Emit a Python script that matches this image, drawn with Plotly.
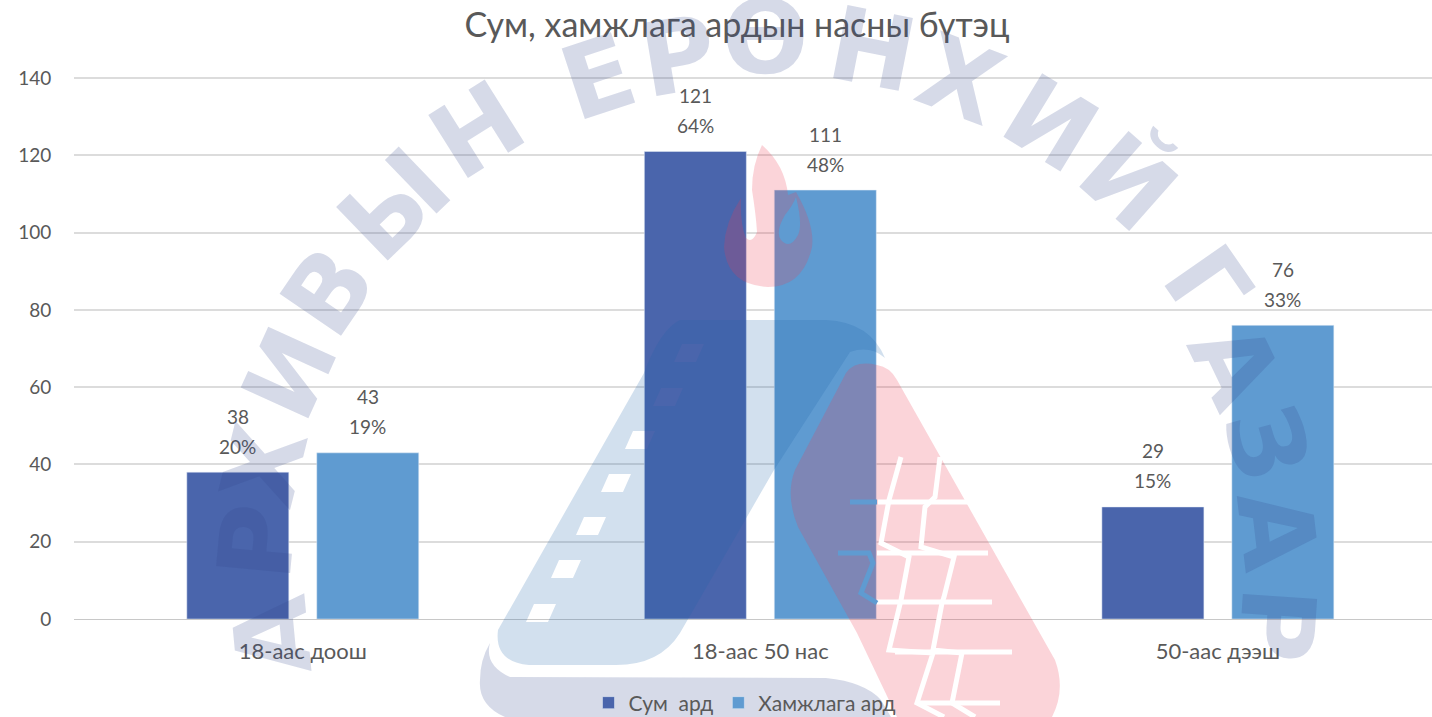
import math
import plotly.graph_objects as go

categories = ["18-аас доош", "18-аас 50 нас", "50-аас дээш"]
sum_values = [38, 121, 29]
sum_shares = ["20%", "64%", "15%"]
khamjlaga_values = [43, 111, 76]
khamjlaga_shares = ["19%", "48%", "33%"]
series_names = ["Сум  ард", "Хамжлага ард"]
title_text = "Сум, хамжлага ардын насны бүтэц"
y_ticks = [0, 20, 40, 60, 80, 100, 120, 140]

W, H = 1432, 717
L, T, B = 74, 76, 619
FONT = "Lato, 'Noto Sans', sans-serif"
TXT = "#595959"
SUM_C = "#4a65ac"
KH_C = "#5f9bd1"
LAV = "rgba(50,70,140,0.20)"
ROAD = "rgba(30,100,170,0.20)"
RED = "rgba(235,60,80,0.22)"

def px(x):
    return (x - L) / (W - L)
def py(y):
    return (B - y) / (B - T)
def path(s):
    out = []
    is_x = True
    for t in s.split():
        if t[0].isalpha():
            out.append(t); is_x = True
        else:
            v = float(t)
            out.append(f"{px(v):.5f}" if is_x else f"{py(v):.5f}")
            is_x = not is_x
    return " ".join(out)

fig = go.Figure()
fig.add_bar(name=series_names[0], x=categories, y=sum_values, marker_color=SUM_C)
fig.add_bar(name=series_names[1], x=categories, y=khamjlaga_values, marker_color=KH_C)

ann = []
for vals, shares, shift in ((sum_values, sum_shares, -65), (khamjlaga_values, khamjlaga_shares, 65)):
    for c, v, s in zip(categories, vals, shares):
        ann.append(dict(x=c, y=v, text=str(v), xshift=shift, yshift=56, showarrow=False,
                        xanchor="center", yanchor="middle", font=dict(size=19, color=TXT, family=FONT)))
        ann.append(dict(x=c, y=v, text=s, xshift=shift, yshift=26, showarrow=False,
                        xanchor="center", yanchor="middle", font=dict(size=19, color=TXT, family=FONT)))

# watermark lettering on an arc
wm_letters = [("А", 272, 636), ("Р", 257, 542), ("Х", 265, 466), ("И", 290, 374), ("В", 328, 291),
              ("Ы", 395, 205), ("Н", 477, 131), ("Е", 598, 77), ("Р", 678, 57), ("Ө", 765, 38),
              ("Н", 872, 50), ("Х", 960, 80), ("И", 1050, 123), ("Й", 1127, 182), ("Г", 1207, 284),
              ("А", 1235, 364), ("З", 1266, 443), ("А", 1277, 530), ("Р", 1277, 624)]
cx, cy = 766, 590
for ch, x, y in wm_letters:
    rot = math.degrees(math.atan2(x - cx, cy - y))
    ann.append(dict(xref="paper", yref="paper", x=px(x), y=py(y), text=ch, textangle=rot, showarrow=False,
                    xanchor="center", yanchor="middle",
                    font=dict(size=102, color=LAV, family="'DejaVu Sans', sans-serif", weight="bold")))

# watermark logo
dashes = [(689, 353), (668, 397), (640, 440), (616, 483), (591, 526), (566, 569), (541, 613)]
road = ("M 680 320 L 826 320 Q 870 322 885 358 Q 870 345 850 352 L 774 470 L 680 633 Q 660 665 616 665 "
        "L 529 665 Q 494 662 498 630 L 644 373 Q 660 330 680 320 Z")
for x, y in dashes:
    road += f" M {x-7} {y-9} L {x+15} {y-9} L {x+7} {y+9} L {x-15} {y+9} Z"
band = "M 490 643 Q 484 665 510 677 L 826 678 Q 865 682 881 700 L 891 717 L 505 717 Q 478 705 480 680 Q 480 660 490 643 Z"
tire = ("M 877 365 Q 855 360 846 373 L 795 470 Q 785 495 798 527 L 857 633 L 897 717 L 1052 717 "
        "Q 1066 690 1055 660 L 897 380 Q 890 367 877 365 Z")
flame = ("M 762 145 Q 785 165 788 195 L 796 192 Q 815 225 812 247 Q 803 287 768 287 Q 727 285 724 247 "
         "Q 725 222 741 198 Q 740 225 746 238 Q 752 244 757 232 Q 756 215 752 190 Q 752 165 762 145 Z "
         "M 796 197 Q 803 225 798 235 Q 790 250 781 240 Q 775 232 785 215 Q 793 205 796 197 Z")
shapes = [
    dict(type="path", path=path(band), fillcolor=LAV),
    dict(type="path", path=path(road), fillcolor=ROAD),
    dict(type="path", path=path(tire), fillcolor=RED),
    dict(type="path", path=path(flame), fillcolor=RED),
]
for s in shapes:
    s.update(xref="paper", yref="paper", line_width=0, fillrule="evenodd", layer="above")

treads_white = [
    "M 878 502 L 972 502 M 877 553 L 988 553 M 877 602 L 992 602 M 895 652 L 1012 652 M 917 703 L 1000 703",
    "M 901 457 L 889 500 L 881 543 L 909 557 L 901 600 L 889 650 L 933 653 L 917 703 L 944 717",
    "M 940 457 L 935 497 L 925 507 L 921 547 L 954 557 L 944 597 L 942 603 L 933 650 L 962 653 L 952 703 L 975 717",
]
for d in treads_white:
    shapes.append(dict(type="path", path=path(d), xref="paper", yref="paper", layer="above",
                       line=dict(color="white", width=5)))
treads_bar = ["M 850 502 L 877 502", "M 838 553 L 869 553 L 873 563 L 861 593 L 877 603"]
for d in treads_bar:
    shapes.append(dict(type="path", path=path(d), xref="paper", yref="paper", layer="above",
                       line=dict(color=KH_C, width=5)))

fig.update_layout(
    width=W, height=H, autosize=False,
    margin=dict(l=L, r=0, t=T, b=H - B, pad=0),
    paper_bgcolor="white", plot_bgcolor="white",
    font=dict(family=FONT, color=TXT, size=19),
    title=dict(text=title_text, x=737 / W, xanchor="center", y=1 - 25 / H, yanchor="middle",
               font=dict(size=34, color=TXT, family=FONT)),
    barmode="group", bargap=0.432, bargroupgap=0.215,
    legend=dict(orientation="h", x=745 / W, xref="container", xanchor="center", y=1 - 703 / H, yref="container",
                yanchor="middle", font=dict(size=21, color=TXT), itemwidth=30, bgcolor="rgba(0,0,0,0)"),
    xaxis=dict(range=[-0.5, 2.468], ticks="outside", ticklen=13, tickcolor="rgba(0,0,0,0)",
               showgrid=False, showline=True, linecolor="#c8c8c8", linewidth=1, tickfont=dict(size=22, color=TXT)),
    yaxis=dict(range=[0, 140.52], tickvals=y_ticks, ticks="outside", ticklen=18, tickcolor="rgba(0,0,0,0)",
               showgrid=True, gridcolor="#dcdcdc", gridwidth=1.5, zeroline=False, tickfont=dict(size=19, color=TXT)),
    annotations=ann, shapes=shapes,
)
fig.write_html("out.html", config={"displayModeBar": False},
               post_script="document.body.style.margin='0';document.body.style.overflow='hidden';")
